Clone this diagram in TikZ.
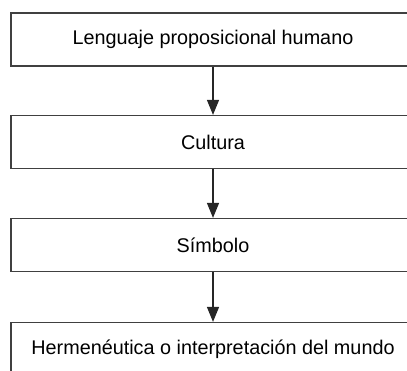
\documentclass[tikz,border=0pt]{standalone}
\usepackage{fontspec}
\setmainfont{Liberation Sans}
\usetikzlibrary{arrows.meta}
\tikzstyle{box}=[rectangle,draw=black!75,line width=1.2pt,minimum width=404pt,minimum height=53pt,inner sep=0pt,text=black,font=\fontsize{19.8}{23}\selectfont]
\tikzstyle{flow}=[-{Triangle[length=15pt,width=12pt]},line width=1.3pt,draw=black!85]

\begin{document}
\begin{tikzpicture}[x=1pt,y=-1pt]

  \useasboundingbox (0,0) rectangle (407,370);
  \clip (0,0) rectangle (407,370);

  \node[box] (Len) at (213,39.5) {Lenguaje proposicional humano};
  \node[box] (Cul) at (213,142) {Cultura};
  \node[box] (Sim) at (213,245) {Símbolo};
  \node[box] (Her) at (213,349) {Hermenéutica o interpretación del mundo};

  \draw[flow] (Len)--(Cul); \draw[flow] (Cul)--(Sim); \draw[flow] (Sim)--(Her);

\end{tikzpicture}
\end{document}
